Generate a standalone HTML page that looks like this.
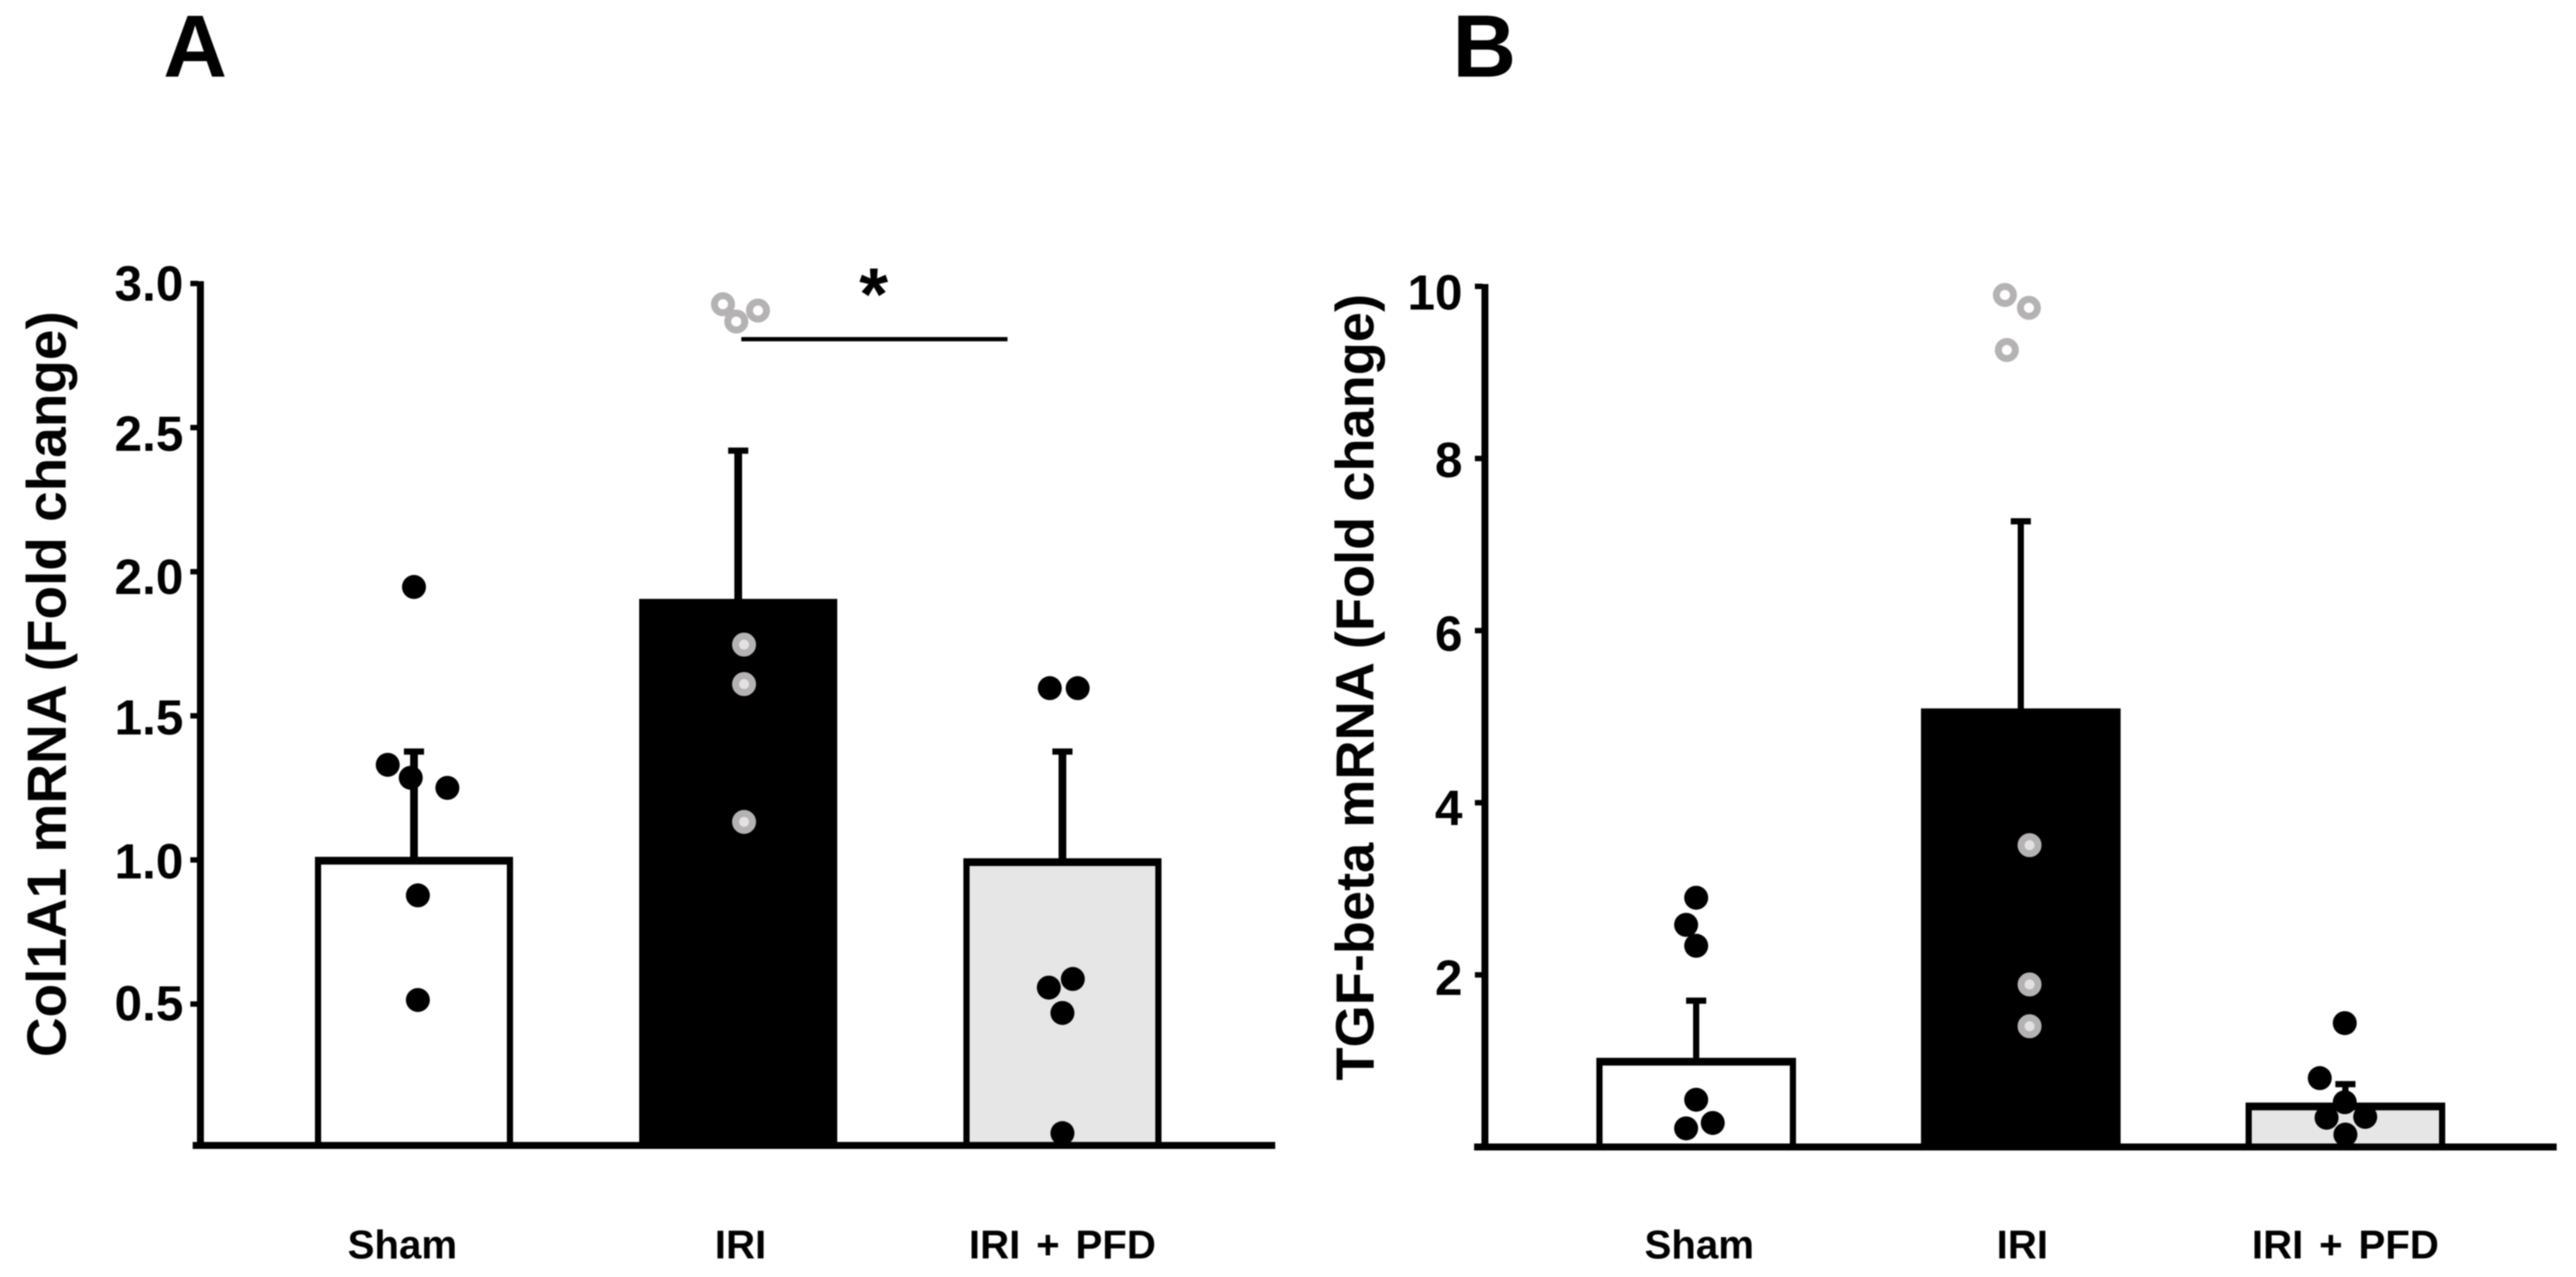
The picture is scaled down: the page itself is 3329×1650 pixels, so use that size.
<!DOCTYPE html>
<html>
<head>
<meta charset="utf-8">
<title>Col1A1 and TGF-beta mRNA fold change</title>
<style>
html,body{margin:0;padding:0;background:#fff;width:3329px;height:1650px;overflow:hidden}
svg{display:block;filter:blur(0.9px)}
text{font-family:"Liberation Sans",Arial,sans-serif;font-weight:bold;fill:#000}
</style>
</head>
<body>
<svg id="figure" xmlns="http://www.w3.org/2000/svg" width="3329" height="1650" viewBox="0 0 3329 1650"></svg>
<script>
// ---- Shared data ----
const categories = ['Sham', 'IRI', 'IRI + PFD'];

// ---- Panel A data ----
const col1a1Means = [1.0, 1.895, 0.995];
const col1a1Errors = [0.376, 0.525, 0.381];
const col1a1Sham = [1.947, 1.33, 1.285, 1.25, 0.877, 0.514];
const col1a1Iri = [2.928, 2.906, 2.868, 1.747, 1.61, 1.132];
const col1a1Pfd = [1.596, 1.596, 0.587, 0.557, 0.469, 0.052];
const col1a1TickLabels = ['0.5', '1.0', '1.5', '2.0', '2.5', '3.0'];

// ---- Panel B data ----
const tgfMeans = [1.0, 5.06, 0.48];
const tgfErrors = [0.7, 2.21, 0.25];
const tgfSham = [2.896, 2.581, 2.338, 0.549, 0.279, 0.216];
const tgfIri = [9.9, 9.75, 9.26, 3.507, 1.888, 1.403];
const tgfPfd = [1.439, 0.8, 0.52, 0.35, 0.34, 0.144];
const tgfTickLabels = ['2', '4', '6', '8', '10'];

// Horizontal scatter of each dot, as a fraction of the category spacing
const col1a1ShamJitter = [0, -0.081, -0.01, 0.103, 0.012, 0.012];
const col1a1IriJitter = [-0.047, 0.061, -0.006, 0.018, 0.018, 0.018];
const col1a1PfdJitter = [-0.039, 0.047, 0.032, -0.042, 0, 0];
const tgfShamJitter = [0, -0.031, 0, 0, 0.051, -0.031];
const tgfIriJitter = [-0.049, 0.025, -0.043, 0.027, 0.027, 0.027];
const tgfPfdJitter = [-0.002, -0.079, -0.002, 0.061, -0.058, 0];

const svg = document.getElementById('figure');
const NS = 'http://www.w3.org/2000/svg';

function mk(tag, attrs, parent, text) {
  const el = document.createElementNS(NS, tag);
  for (const k in attrs) el.setAttribute(k, attrs[k]);
  if (text !== undefined) el.textContent = text;
  parent.appendChild(el);
  return el;
}

function drawPanel(cfg) {
  const g = mk('g', {}, svg);
  
  

  const y = v => cfg.y0 - cfg.yUnit * v;
  const x = i => cfg.x0 + cfg.step * i;
  const keys = ['sham', 'iri', 'iri-pfd'];
  const fills = ['#ffffff', '#000000', '#e6e6e6'];

  // error bars
  cfg.means.forEach((m, i) => {
    const top = y(m + cfg.errors[i]);
    const stem = mk('rect', {x: x(i) - cfg.stem / 2, y: top, width: cfg.stem, height: y(m) - top, fill: '#000'}, g);
    
    
    const cap = mk('rect', {x: x(i) - 13, y: top - 4, width: 26, height: 8, fill: '#000'}, g);
    
    
  });

  // bars
  cfg.means.forEach((m, i) => {
    const bar = mk('rect', {
      x: x(i) - cfg.barW / 2 + 4, y: y(m) + 2, width: cfg.barW - 8,
      height: cfg.base - y(m) - 2, fill: fills[i], stroke: '#000', 'stroke-width': 8
    }, g);
    
    
    const topEdge = mk('rect', {x: x(i) - cfg.barW / 2, y: y(m) - 4, width: cfg.barW, height: 9, fill: '#000'}, g);
    
    
  });

  // axes
  const yAxis = mk('rect', {x: cfg.axisX - 4.5, y: y(cfg.tickValues[cfg.tickValues.length - 1]) - 3, width: 9, height: cfg.base - y(cfg.tickValues[cfg.tickValues.length - 1]) + 3, fill: '#000'}, g);
  
  
  const xAxis = mk('rect', {x: cfg.baseL, y: cfg.base - 4.5, width: cfg.baseR - cfg.baseL, height: 9, fill: '#000'}, g);
  
  

  // y ticks and labels
  cfg.tickValues.forEach((v, i) => {
    const t = mk('rect', {x: cfg.axisX - 13, y: y(v) - 3.5, width: 10, height: 7, fill: '#000'}, g);
    
    
    const l = mk('text', {x: cfg.labelX, y: y(v) + cfg.labelDrop[i], 'font-size': 64, 'text-anchor': 'end'}, g, cfg.tickLabels[i]);
    
    
  });

  // x labels
  categories.forEach((c, i) => {
    const l = mk('text', {x: x(i) + cfg.catShift[i], y: 1626, 'font-size': 52, 'text-anchor': 'middle', 'word-spacing': 6}, g, c);
    
    
  });

  // y title
  const title = mk('text', {
    transform: 'translate(' + cfg.titleX + ',' + cfg.titleY + ') rotate(-90)',
    'font-size': cfg.titleSize, 'text-anchor': 'middle'
  }, g, cfg.title);
  
  

  // panel letter
  const letter = mk('text', {x: cfg.letterX, y: 99, 'font-size': 114}, g, cfg.letter);
  
  

  // data points
  cfg.points.forEach((vals, i) => {
    vals.forEach((v, j) => {
      const cx = x(i) + cfg.jitter[i][j] * cfg.step;
      const cy = y(v);
      if (i === 1) {
        const inBar = v < cfg.means[1];
        const r = mk('circle', {cx: cx, cy: cy, r: 11, fill: inBar ? '#e2e2e2' : '#ffffff', stroke: '#b4b2b2', 'stroke-width': 9}, g);
        
        
      } else {
        const d = mk('circle', {cx: cx, cy: cy, r: 15.5, fill: '#000'}, g);
        
        
      }
    });
  });
  return {x: x, y: y, g: g};
}

const panelA = drawPanel({
  name: 'panel-a-col1a1', letter: 'A', letterX: 211,
  title: 'Col1A1 mRNA (Fold change)', titleSize: 71, titleX: 85, titleY: 884,
  y0: 1483.5, yUnit: 372.4, base: 1480, axisX: 259, baseL: 249, baseR: 1648,
  labelX: 237, x0: 535, step: 419, barW: 256, stem: 10,
  means: col1a1Means, errors: col1a1Errors,
  tickValues: [0.5, 1, 1.5, 2, 2.5, 3], tickLabels: col1a1TickLabels,
  labelDrop: [21, 24, 24, 29, 30, 22],
  catShift: [-15, 3, 0],
  points: [col1a1Sham, col1a1Iri, col1a1Pfd],
  jitter: [col1a1ShamJitter, col1a1IriJitter, col1a1PfdJitter]
});

const panelB = drawPanel({
  name: 'panel-b-tgf-beta', letter: 'B', letterX: 1877,
  title: 'TGF-beta mRNA (Fold change)', titleSize: 70, titleX: 1775, titleY: 888,
  y0: 1482, yUnit: 111.2, base: 1482, axisX: 1919, baseL: 1905, baseR: 3304,
  labelX: 1890, x0: 2192, step: 419.5, barW: 258, stem: 8,
  means: tgfMeans, errors: tgfErrors,
  tickValues: [2, 4, 6, 8, 10], tickLabels: tgfTickLabels,
  labelDrop: [26, 29, 26, 24, 30],
  catShift: [4, 2, 0],
  points: [tgfSham, tgfIri, tgfPfd],
  jitter: [tgfShamJitter, tgfIriJitter, tgfPfdJitter]
});

// significance marker in panel A
const sigLine = mk('rect', {x: panelA.x(1) + 4, y: 435.5, width: 344, height: 5.5, fill: '#000'}, panelA.g);


const sigStar = mk('text', {x: 1129, y: 413, 'font-size': 96, 'text-anchor': 'middle'}, panelA.g, '*');


</script>
</body>
</html>
